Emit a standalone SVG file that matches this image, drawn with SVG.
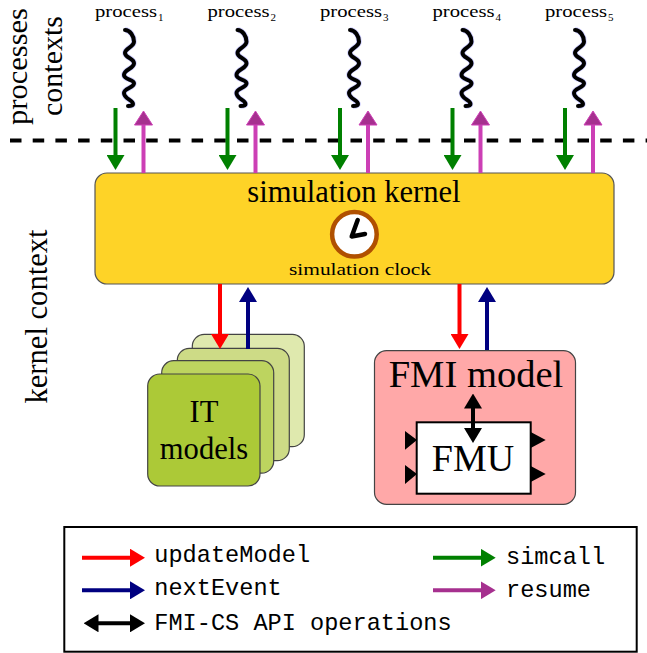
<svg xmlns="http://www.w3.org/2000/svg" width="647" height="653" viewBox="0 0 647 653">
<style>
text{font-family:"Liberation Serif","Times New Roman",serif;fill:#000}
.big{font-size:30.6px;text-anchor:middle}
.proc{font-size:16.5px}
.sub{font-size:11px}
.mono{font-family:"Liberation Mono","Courier New",monospace;font-size:23.6px}
.card{stroke:#444;stroke-width:1.2}
.w{fill:none;stroke:#000;stroke-width:4;stroke-linecap:round}
.wh{fill:none;stroke:#ccf;stroke-width:5.5}
.c{fill:none;stroke-width:4}
.tri{fill:#000}
</style>
<defs>
<marker id="hg" markerUnits="userSpaceOnUse" viewBox="0 0 15 18" markerWidth="15" markerHeight="18" refX="2" refY="9" orient="auto"><path d="M0,0L15,9L0,18Z" fill="#008000"/></marker>
<marker id="hr" markerUnits="userSpaceOnUse" viewBox="0 0 15 18" markerWidth="15" markerHeight="18" refX="2" refY="9" orient="auto"><path d="M0,0L15,9L0,18Z" fill="#f00"/></marker>
<marker id="hn" markerUnits="userSpaceOnUse" viewBox="0 0 15 18" markerWidth="15" markerHeight="18" refX="2" refY="9" orient="auto"><path d="M0,0L15,9L0,18Z" fill="#000080"/></marker>
<marker id="hk" markerUnits="userSpaceOnUse" viewBox="0 0 15 18" markerWidth="15" markerHeight="18" refX="2" refY="9" orient="auto"><path d="M0,0L15,9L0,18Z" fill="#000"/></marker>
<marker id="hks" markerUnits="userSpaceOnUse" viewBox="0 0 15 18" markerWidth="15" markerHeight="18" refX="13" refY="9" orient="auto"><path d="M15,0L0,9L15,18Z" fill="#000"/></marker>
<marker id="hp" markerUnits="userSpaceOnUse" viewBox="0 0 16 20" markerWidth="16" markerHeight="20" refX="2.5" refY="10" orient="auto"><path d="M1,1L15,10L1,19Z" fill="#a6308f" stroke="#cc3fb5" stroke-width="1"/></marker>
<marker id="hpl" markerUnits="userSpaceOnUse" viewBox="0 0 15 18" markerWidth="15" markerHeight="18" refX="2" refY="9" orient="auto"><path d="M0,0L15,9L0,18Z" fill="#a6308f"/></marker>
<path id="wave" d="M125,30C130,30 134,36 134,41.7C134,47 125,48 125,53C125,58 134,58 134,63.3C134,69 124,69 124,75C124,80 134,79 134,83.3C134,88 124,88 124,93C124,99 133,100 133,104C133,106 130,106 128,106"/>
</defs>

<g id="separator"><line x1="10" y1="140.5" x2="647" y2="140.5" stroke="#000" stroke-width="4" stroke-dasharray="11.5 11.2"/></g>
<g id="axis-labels">
<text transform="translate(26.8,125) rotate(-90)" font-size="30" textLength="117" lengthAdjust="spacingAndGlyphs">processes</text>
<text class="big" transform="translate(62,66) rotate(-90)" style="font-size:30px">contexts</text>
<text class="big" transform="translate(46.7,316.5) rotate(-90)">kernel context</text>
</g>

<g id="process1"><use href="#wave" class="wh"/><use href="#wave" class="w"/><text class="proc" x="95" y="17.3" textLength="62" lengthAdjust="spacingAndGlyphs">process</text><text class="sub" x="158" y="21">1</text></g>
<g id="process2" transform="translate(112.5 0)"><use href="#wave" class="wh"/><use href="#wave" class="w"/><text class="proc" x="95" y="17.3" textLength="62" lengthAdjust="spacingAndGlyphs">process</text><text class="sub" x="158" y="21">2</text></g>
<g id="process3" transform="translate(225 0)"><use href="#wave" class="wh"/><use href="#wave" class="w"/><text class="proc" x="95" y="17.3" textLength="62" lengthAdjust="spacingAndGlyphs">process</text><text class="sub" x="158" y="21">3</text></g>
<g id="process4" transform="translate(337.5 0)"><use href="#wave" class="wh"/><use href="#wave" class="w"/><text class="proc" x="95" y="17.3" textLength="62" lengthAdjust="spacingAndGlyphs">process</text><text class="sub" x="158" y="21">4</text></g>
<g id="process5" transform="translate(450 0)"><use href="#wave" class="wh"/><use href="#wave" class="w"/><text class="proc" x="95" y="17.3" textLength="62" lengthAdjust="spacingAndGlyphs">process</text><text class="sub" x="158" y="21">5</text></g>

<g id="kernel">
<rect x="95" y="173" width="519" height="111" rx="12" fill="#fed327" stroke="#555" stroke-width="1.2"/>
<text class="big" x="354" y="201.7">simulation kernel</text>
<circle cx="354.4" cy="234.3" r="22.3" fill="#fff" stroke="#b05000" stroke-width="4.5"/>
<path d="M357.7,220L351.7,236.5L365,234" fill="none" stroke="#000" stroke-width="4.5" stroke-linecap="round" stroke-linejoin="round"/>
<text x="289" y="275" font-size="17" textLength="142" lengthAdjust="spacingAndGlyphs">simulation clock</text>
</g>

<g id="it-models">
<rect class="card" x="192.3" y="334.3" width="112" height="112.4" rx="12" fill="#dfe9ae"/>
<rect class="card" x="177.3" y="348.3" width="112" height="112.4" rx="12" fill="#cddb86"/>
<rect class="card" x="161.7" y="360.7" width="112" height="112.4" rx="12" fill="#bdd45f"/>
<rect class="card" x="147.7" y="374" width="112.3" height="112" rx="12" fill="#acc937"/>
<text class="big" x="204" y="421.5">IT</text>
<text class="big" x="204" y="459.3">models</text>
</g>

<g id="fmi-model">
<rect class="card" x="374.5" y="350.7" width="201" height="153.6" rx="12" fill="#ffa8a8"/>
<text class="big" x="476" y="386.7" style="font-size:38.6px">FMI model</text>
</g>
<g id="fmu">
<path class="tri" d="M405,431L417,440L405,449.7ZM405,465L417,474L405,484ZM530.7,432L545.7,440L530.7,448ZM530.7,466L545.7,474L530.7,482Z"/>
<rect x="416.7" y="422.3" width="114" height="71.4" fill="#fff" stroke="#000" stroke-width="2"/>
<text class="big" x="473" y="470.7" style="font-size:38px">FMU</text>
</g>

<g id="connectors">
<line class="c" x1="115.5" y1="108" x2="115.5" y2="157" stroke="#008000" marker-end="url(#hg)"/>
<line class="c" x1="227.5" y1="108" x2="227.5" y2="157" stroke="#008000" marker-end="url(#hg)"/>
<line class="c" x1="340" y1="108" x2="340" y2="157" stroke="#008000" marker-end="url(#hg)"/>
<line class="c" x1="452.5" y1="108" x2="452.5" y2="157" stroke="#008000" marker-end="url(#hg)"/>
<line class="c" x1="565" y1="108" x2="565" y2="157" stroke="#008000" marker-end="url(#hg)"/>
<line class="c" x1="143.5" y1="173" x2="143.5" y2="123.5" stroke="#cc3fb5" marker-end="url(#hp)"/>
<line class="c" x1="255.5" y1="173" x2="255.5" y2="123.5" stroke="#cc3fb5" marker-end="url(#hp)"/>
<line class="c" x1="368" y1="173" x2="368" y2="123.5" stroke="#cc3fb5" marker-end="url(#hp)"/>
<line class="c" x1="480.5" y1="173" x2="480.5" y2="123.5" stroke="#cc3fb5" marker-end="url(#hp)"/>
<line class="c" x1="593" y1="173" x2="593" y2="123.5" stroke="#cc3fb5" marker-end="url(#hp)"/>
<line class="c" x1="220" y1="284" x2="220" y2="336" stroke="#f00" marker-end="url(#hr)"/>
<line class="c" x1="459.5" y1="284" x2="459.5" y2="336" stroke="#f00" marker-end="url(#hr)"/>
<line class="c" x1="248" y1="349" x2="248" y2="300" stroke="#000080" marker-end="url(#hn)"/>
<line class="c" x1="487" y1="350" x2="487" y2="300" stroke="#000080" marker-end="url(#hn)"/>
<line class="c" x1="473" y1="406.5" x2="473" y2="430" stroke="#000" marker-start="url(#hks)" marker-end="url(#hk)"/>
</g>

<g id="legend">
<rect x="64.3" y="527" width="572.4" height="124.7" fill="none" stroke="#000" stroke-width="2"/>
<line class="c" x1="82" y1="557.7" x2="132" y2="557.7" stroke="#f00" marker-end="url(#hr)"/>
<line class="c" x1="82" y1="590.3" x2="132" y2="590.3" stroke="#000080" marker-end="url(#hn)"/>
<line class="c" x1="96.5" y1="623.3" x2="132" y2="623.3" stroke="#000" marker-start="url(#hks)" marker-end="url(#hk)"/>
<line class="c" x1="433" y1="557.7" x2="482.7" y2="557.7" stroke="#008000" marker-end="url(#hg)"/>
<line class="c" x1="433" y1="590.3" x2="482.7" y2="590.3" stroke="#a6308f" marker-end="url(#hpl)"/>
<text class="mono" x="154.3" y="562">updateModel</text>
<text class="mono" x="154.3" y="594.5">nextEvent</text>
<text class="mono" x="154.3" y="629.5">FMI-CS API operations</text>
<text class="mono" x="506" y="563.5">simcall</text>
<text class="mono" x="506" y="596.5">resume</text>
</g>
</svg>
